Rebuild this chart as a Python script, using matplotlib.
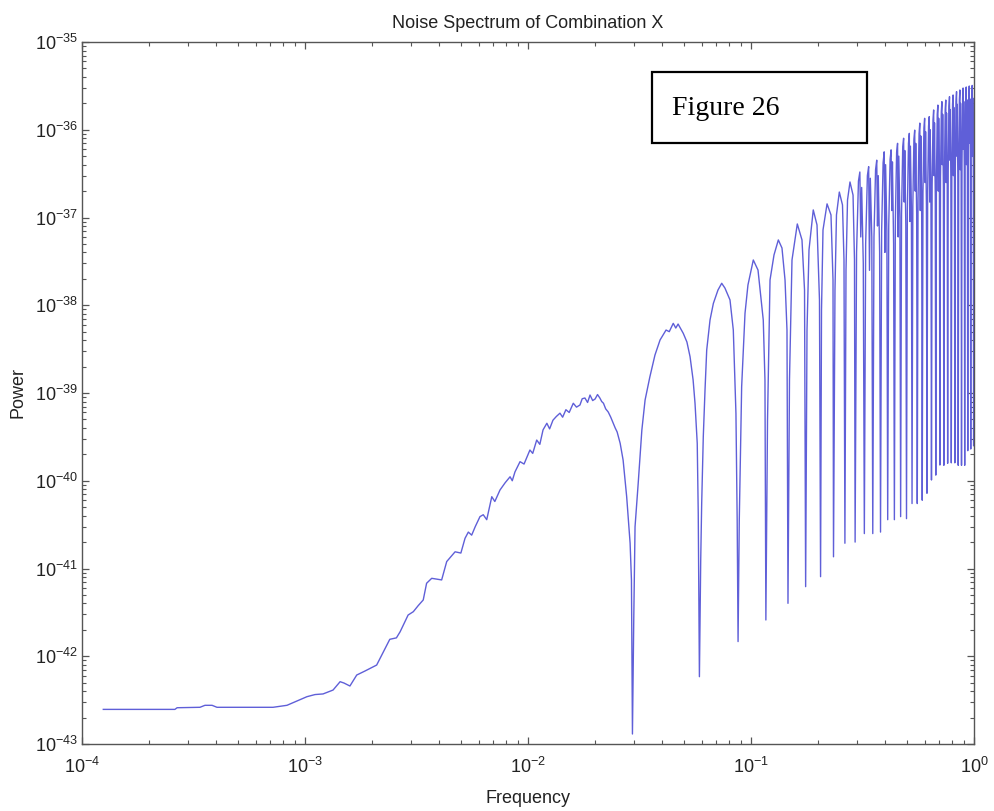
import matplotlib
matplotlib.use("Agg")
import matplotlib.pyplot as plt
from matplotlib.patches import Rectangle
from matplotlib.ticker import FixedLocator, NullFormatter, LogFormatterSciNotation

plt.rcParams['font.family'] = ['Liberation Sans', 'DejaVu Sans']

title = "Noise Spectrum of Combination X"
xlabel = "Frequency"
ylabel = "Power"
annotation = "Figure 26"
x_decades = [1e-4, 1e-3, 1e-2, 1e-1, 1e0]
y_decades = [1e-43, 1e-42, 1e-41, 1e-40, 1e-39, 1e-38, 1e-37, 1e-36, 1e-35]

# Broad low-frequency part and first lobes
freq_low = [1.246e-4, 2.61e-4, 2.67e-4, 3.38e-4, 3.56e-4, 3.83e-4, 4.03e-4, 7.19e-4, 8.30e-4,
            1.02e-3, 1.109e-3, 1.205e-3, 1.336e-3, 1.437e-3, 1.496e-3, 1.59e-3, 1.706e-3, 1.858e-3,
            2.096e-3, 2.40e-3, 2.57e-3, 2.67e-3, 2.90e-3, 3.06e-3, 3.22e-3, 3.39e-3, 3.51e-3, 3.70e-3,
            4.10e-3, 4.32e-3, 4.71e-3, 5.0e-3, 5.22e-3, 5.40e-3, 5.59e-3, 5.80e-3, 6.09e-3, 6.30e-3,
            6.53e-3, 6.88e-3, 7.10e-3, 7.49e-3, 7.9e-3, 8.31e-3, 8.5e-3, 8.74e-3, 9.21e-3, 9.6e-3,
            1.02e-2, 1.05e-2, 1.094e-2, 1.13e-2, 1.168e-2, 1.215e-2, 1.25e-2, 1.294e-2, 1.34e-2,
            1.391e-2, 1.43e-2, 1.479e-2, 1.53e-2, 1.596e-2, 1.65e-2, 1.71e-2, 1.75e-2, 1.80e-2,
            1.85e-2, 1.897e-2, 1.95e-2, 2.00e-2, 2.05e-2, 2.10e-2, 2.14e-2, 2.18e-2, 2.23e-2, 2.29e-2,
            2.35e-2, 2.41e-2, 2.46e-2, 2.51e-2, 2.59e-2, 2.67e-2, 2.77e-2, 2.82e-2, 2.87e-2, 2.91e-2,
            2.94e-2, 2.98e-2, 3.02e-2, 3.12e-2, 3.24e-2, 3.35e-2, 3.52e-2, 3.71e-2, 3.91e-2, 4.16e-2,
            4.30e-2, 4.48e-2, 4.60e-2, 4.71e-2, 4.97e-2, 5.16e-2, 5.33e-2, 5.50e-2, 5.61e-2, 5.74e-2,
            5.80e-2, 5.87e-2, 5.95e-2, 6.01e-2, 6.11e-2, 6.22e-2, 6.33e-2, 6.55e-2, 6.78e-2, 7.11e-2,
            7.39e-2, 7.64e-2, 8.05e-2, 8.33e-2, 8.56e-2, 8.67e-2, 8.75e-2, 8.86e-2, 9.08e-2, 9.40e-2,
            9.69e-2, 0.1024, 0.1075, 0.1135, 0.1155, 0.1166, 0.1186, 0.1217, 0.1268, 0.1326, 0.1377,
            0.1421, 0.1450, 0.1465, 0.1488, 0.1527, 0.1613, 0.1693, 0.1738, 0.1758, 0.1783, 0.1820,
            0.1902, 0.1977, 0.2028, 0.2051, 0.2071, 0.2103, 0.2193, 0.2284, 0.2332, 0.2344, 0.2380,
            0.2417, 0.2489, 0.2572, 0.2612, 0.2637, 0.2667, 0.2709, 0.2779, 0.2868, 0.2911]
power_low = [2.48e-43, 2.48e-43, 2.59e-43, 2.62e-43, 2.76e-43, 2.76e-43, 2.62e-43, 2.62e-43, 2.76e-43,
             3.46e-43, 3.66e-43, 3.72e-43, 4.12e-43, 5.13e-43, 4.95e-43, 4.58e-43, 6.11e-43, 6.79e-43,
             7.94e-43, 1.56e-42, 1.62e-42, 1.90e-42, 2.95e-42, 3.22e-42, 3.78e-42, 4.38e-42, 6.79e-42, 7.73e-42,
             7.41e-42, 1.20e-41, 1.55e-41, 1.50e-41, 2.21e-41, 2.60e-41, 2.40e-41, 3.00e-41, 3.90e-41, 4.10e-41,
             3.60e-41, 6.58e-41, 5.80e-41, 7.85e-41, 9.50e-41, 1.11e-40, 1.00e-40, 1.26e-40, 1.65e-40, 1.55e-40,
             2.24e-40, 2.05e-40, 2.91e-40, 2.60e-40, 3.80e-40, 4.52e-40, 3.90e-40, 4.90e-40, 5.40e-40,
             5.89e-40, 5.30e-40, 6.45e-40, 6.00e-40, 7.64e-40, 6.90e-40, 7.30e-40, 8.60e-40, 8.77e-40,
             7.80e-40, 9.48e-40, 8.20e-40, 8.55e-40, 9.60e-40, 8.77e-40, 8.00e-40, 7.64e-40, 6.60e-40, 6.07e-40,
             5.30e-40, 4.52e-40, 4.00e-40, 3.60e-40, 2.67e-40, 1.72e-40, 6.58e-41, 3.55e-41, 1.94e-41, 7.41e-42,
             1.30e-43, 2.60e-42, 2.99e-41, 9.35e-41, 3.78e-40, 8.32e-40, 1.53e-39, 2.71e-39, 4.02e-39, 5.22e-39,
             5.00e-39, 6.22e-39, 5.50e-39, 6.11e-39, 4.78e-39, 3.81e-39, 2.59e-39, 1.41e-39, 7.64e-40, 2.67e-40,
             4.26e-41, 5.85e-43, 1.25e-41, 5.53e-41, 3.18e-40, 1.08e-39, 3.09e-39, 6.79e-39, 1.05e-38, 1.49e-38,
             1.78e-38, 1.57e-38, 1.15e-38, 5.22e-39, 5.87e-40, 3.57e-41, 1.47e-42, 3.57e-41, 1.18e-39, 8.09e-39,
             1.70e-38, 3.28e-38, 2.52e-38, 6.79e-39, 1.41e-39, 2.59e-42, 4.92e-40, 1.94e-38, 3.74e-38, 5.55e-38, 4.49e-38,
             1.94e-38, 5.22e-39, 4.01e-42, 1.41e-39, 3.28e-38, 8.44e-38, 5.55e-38, 1.49e-38, 6.21e-42, 5.22e-39, 4.27e-38,
             1.22e-37, 8.22e-38, 1.15e-38, 8.07e-42, 8.83e-39, 7.21e-38, 1.43e-37, 1.07e-37, 1.94e-38, 1.36e-41, 1.49e-38,
             1.07e-37, 1.95e-37, 1.39e-37, 3.28e-38, 1.94e-41, 2.52e-38, 1.58e-37, 2.54e-37, 1.80e-37, 3.30e-38]

# Narrow high-frequency lobes: null, rise, shoulder, peak, dip, shoulder, fall
freq_high = [0.2930, 0.2974, 0.3033, 0.3077, 0.3106, 0.3135, 0.3188,
             0.3223, 0.3267, 0.3326, 0.3370, 0.3399, 0.3428, 0.3481,
             0.3516, 0.3560, 0.3619, 0.3663, 0.3692, 0.3721, 0.3774,
             0.3809, 0.3853, 0.3912, 0.3956, 0.3985, 0.4014, 0.4067,
             0.4102, 0.4146, 0.4205, 0.4249, 0.4278, 0.4307, 0.4360,
             0.4395, 0.4439, 0.4498, 0.4542, 0.4571, 0.4600, 0.4653,
             0.4688, 0.4732, 0.4791, 0.4835, 0.4864, 0.4893, 0.4946,
             0.4981, 0.5025, 0.5084, 0.5128, 0.5157, 0.5186, 0.5239,
             0.5274, 0.5318, 0.5377, 0.5421, 0.5450, 0.5479, 0.5532,
             0.5567, 0.5611, 0.5670, 0.5714, 0.5743, 0.5772, 0.5825,
             0.5860, 0.5904, 0.5963, 0.6007, 0.6036, 0.6065, 0.6118,
             0.6153, 0.6197, 0.6256, 0.6300, 0.6329, 0.6358, 0.6411,
             0.6446, 0.6490, 0.6549, 0.6593, 0.6622, 0.6651, 0.6704,
             0.6739, 0.6783, 0.6842, 0.6886, 0.6915, 0.6944, 0.6997,
             0.7032, 0.7076, 0.7135, 0.7179, 0.7208, 0.7237, 0.7290,
             0.7325, 0.7369, 0.7428, 0.7472, 0.7501, 0.7530, 0.7583,
             0.7618, 0.7662, 0.7721, 0.7765, 0.7794, 0.7823, 0.7876,
             0.7911, 0.7955, 0.8014, 0.8058, 0.8087, 0.8116, 0.8169,
             0.8204, 0.8248, 0.8307, 0.8351, 0.8380, 0.8409, 0.8462,
             0.8497, 0.8541, 0.8600, 0.8644, 0.8673, 0.8702, 0.8755,
             0.8790, 0.8834, 0.8893, 0.8937, 0.8966, 0.8995, 0.9048,
             0.9083, 0.9127, 0.9186, 0.9230, 0.9259, 0.9288, 0.9341,
             0.9376, 0.9420, 0.9479, 0.9523, 0.9552, 0.9581, 0.9634,
             0.9669, 0.9713, 0.9772, 0.9816, 0.9845, 0.9874, 0.9927,
             0.9962, 0.9995]
power_high = [2.0e-41, 4.0e-38, 2.6e-37, 3.3e-37, 6.0e-38, 2.2e-37, 3.0e-38,
              2.5e-41, 5.0e-38, 3.0e-37, 3.8e-37, 2.5e-38, 2.8e-37, 6.0e-38,
              2.5e-41, 6.0e-38, 3.5e-37, 4.5e-37, 8.0e-38, 3.0e-37, 4.0e-38,
              2.6e-41, 7.0e-38, 4.2e-37, 5.6e-37, 4.0e-38, 4.0e-37, 7.0e-38,
              3.6e-41, 8.0e-38, 4.6e-37, 5.9e-37, 1.2e-37, 4.3e-37, 5.0e-38,
              3.6e-41, 9.0e-38, 5.5e-37, 7.0e-37, 6.0e-38, 5.0e-37, 1.0e-37,
              3.9e-41, 1.1e-37, 6.4e-37, 8.0e-37, 1.5e-37, 5.8e-37, 8.0e-38,
              3.7e-41, 1.2e-37, 7.0e-37, 9.1e-37, 9.0e-38, 6.5e-37, 1.3e-37,
              5.5e-41, 1.4e-37, 7.8e-37, 9.9e-37, 2.0e-37, 7.0e-37, 1.1e-37,
              5.5e-41, 1.6e-37, 9.0e-37, 1.19e-36, 1.2e-37, 8.5e-37, 1.8e-37,
              6.0e-41, 1.9e-37, 1.05e-36, 1.35e-36, 2.5e-37, 9.5e-37, 1.4e-37,
              7.2e-41, 2.0e-37, 1.1e-36, 1.41e-36, 1.5e-37, 1.0e-36, 2.2e-37,
              1.02e-40, 2.3e-37, 1.3e-36, 1.68e-36, 3.0e-37, 1.2e-36, 1.8e-37,
              1.16e-40, 2.6e-37, 1.5e-36, 1.91e-36, 2.0e-37, 1.35e-36, 2.8e-37,
              1.51e-40, 2.9e-37, 1.6e-36, 2.09e-36, 4.0e-37, 1.5e-36, 2.2e-37,
              1.5e-40, 3.0e-37, 1.7e-36, 2.18e-36, 2.5e-37, 1.55e-36, 3.2e-37,
              1.58e-40, 3.3e-37, 1.85e-36, 2.38e-36, 4.5e-37, 1.7e-36, 2.6e-37,
              1.6e-40, 3.5e-37, 1.95e-36, 2.49e-36, 3.0e-37, 1.8e-36, 3.6e-37,
              1.6e-40, 3.8e-37, 2.1e-36, 2.72e-36, 5.0e-37, 1.95e-36, 3.0e-37,
              1.5e-40, 4.0e-37, 2.2e-36, 2.84e-36, 3.5e-37, 2.0e-36, 4.2e-37,
              1.5e-40, 4.2e-37, 2.3e-36, 2.99e-36, 6.0e-37, 2.1e-36, 3.5e-37,
              1.5e-40, 4.4e-37, 2.4e-36, 3.07e-36, 4.0e-37, 2.2e-36, 4.6e-37,
              2.2e-40, 4.6e-37, 2.45e-36, 3.15e-36, 7.0e-37, 2.25e-36, 4.0e-37,
              2.3e-40, 4.8e-37, 2.5e-36, 3.2e-36, 5.0e-37, 2.3e-36, 5.0e-37,
              2.5e-40, 1.0e-36]

freq = freq_low + freq_high
power = power_low + power_high

W, H, DPI = 994, 811, 100
fig = plt.figure(figsize=(W / DPI, H / DPI), dpi=DPI)
ax = fig.add_axes([82 / W, 1 - 744 / H, (974 - 82) / W, (744 - 42) / H])

ax.loglog(freq, power, color='#5f5fd8', lw=1.0)
ax.set_xlim(x_decades[0], x_decades[-1])
ax.set_ylim(y_decades[0], y_decades[-1])

# ticks limited to the visible range
x_minor = [m * d for d in x_decades[:-1] for m in range(2, 10)]
y_minor = [m * d for d in y_decades[:-1] for m in range(2, 10)]
ax.xaxis.set_major_locator(FixedLocator(x_decades))
ax.yaxis.set_major_locator(FixedLocator(y_decades))
ax.xaxis.set_minor_locator(FixedLocator(x_minor))
ax.yaxis.set_minor_locator(FixedLocator(y_minor))
ax.xaxis.set_major_formatter(LogFormatterSciNotation())
ax.yaxis.set_major_formatter(LogFormatterSciNotation())
ax.xaxis.set_minor_formatter(NullFormatter())
ax.yaxis.set_minor_formatter(NullFormatter())

txtc = '#222222'
ax.set_title(title, fontsize=13, color=txtc, pad=10)
ax.set_xlabel(xlabel, fontsize=13, color=txtc, labelpad=10)
ax.set_ylabel(ylabel, fontsize=13, color=txtc, labelpad=6)

for s in ax.spines.values():
    s.set_color('#555555')
    s.set_linewidth(1.0)
ax.tick_params(which='both', direction='in', top=True, right=True, colors='#555555',
               labelcolor=txtc, labelsize=13)
ax.tick_params(which='major', length=5, width=0.9)
ax.tick_params(which='minor', length=3, width=0.8)
ax.tick_params(axis='x', which='major', pad=9)
ax.tick_params(axis='y', which='major', pad=3)

# annotation box
fig.patches.append(Rectangle((652 / W, 1 - 143 / H), 215 / W, 71 / H, transform=fig.transFigure,
                             fill=False, edgecolor='black', lw=1.6))
fig.text(672 / W, 1 - 115 / H, annotation, family='Liberation Serif', fontsize=20,
         va='baseline', ha='left', color='black')

fig.savefig('out.png', dpi=DPI)
